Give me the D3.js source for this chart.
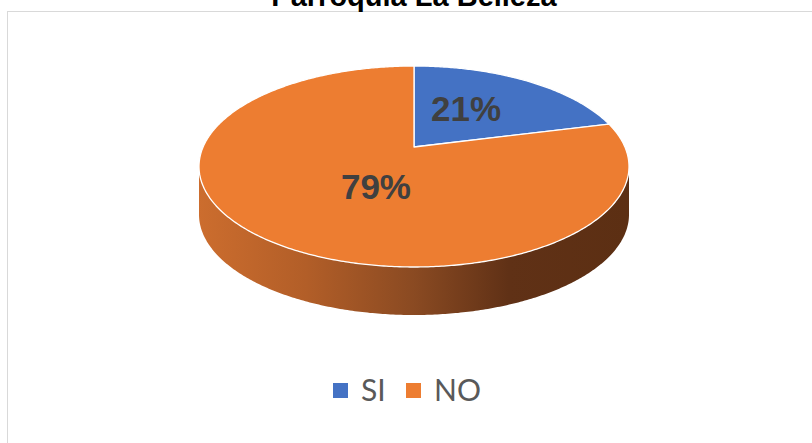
<!DOCTYPE html>
<html><head><meta charset="utf-8">
<script src="https://cdn.jsdelivr.net/npm/d3@7"></script>
<style>html,body{margin:0;padding:0;background:#fff;overflow:hidden}</style>
</head><body>
<svg id="chart" width="812" height="443"></svg>
<script>
const title = "Parroquia La Belleza";
const categories = ["SI", "NO"];
const values = [21, 79];
const colors = ["#4472C4", "#ED7D31"];

const W = 812, H = 443;
const svg = d3.select("#chart");

// chart border
svg.append("rect").attr("x", 7.5).attr("y", 11.5).attr("width", 830).attr("height", 460)
  .attr("fill", "#fff").attr("stroke", "#d9d9d9").attr("stroke-width", 1);

// title
svg.append("text").attr("x", 414).attr("y", 6).attr("text-anchor", "middle")
  .attr("font-family", "Liberation Sans, Arial, sans-serif").attr("font-weight", "bold")
  .attr("font-size", 29).attr("fill", "#000").text(title);

// perspective projection of a disc
const cx = 414, cy = 147, backR = 81, frontR = 120, halfW = 215, depth = 48;
const k = (frontR - backR) / (frontR + backR);
const B = backR * (1 + k);
const A = halfW * Math.sqrt(1 - k * k);
function proj(theta, f, dz) {
  const u = f * Math.sin(theta), v = f * Math.cos(theta);
  const w = 1 + k * v;
  return [cx + A * u / w, cy - B * v / w + dz];
}

const pie = d3.pie().sort(null).value(d => d)(values);
const total = d3.sum(values);

function arcPoints(a0, a1, dz) {
  const n = Math.max(2, Math.ceil(Math.abs(a1 - a0) / 0.01));
  const pts = [];
  for (let i = 0; i <= n; i++) pts.push(proj(a0 + (a1 - a0) * i / n, 1, dz));
  return pts;
}

// side gradient
const defs = svg.append("defs");
const grad = defs.append("linearGradient").attr("id", "sideGrad")
  .attr("gradientUnits", "userSpaceOnUse").attr("x1", cx - halfW).attr("x2", cx + halfW).attr("y1", 0).attr("y2", 0);
[["0%", "#cc6d2e"], ["25%", "#b25e28"], ["50%", "#8a4a22"], ["72%", "#603116"], ["100%", "#5c2f13"]]
  .forEach(([o, c]) => grad.append("stop").attr("offset", o).attr("stop-color", c));

// visible front side: between silhouette angles
const t1 = Math.acos(-k), t2 = 2 * Math.PI - Math.acos(-k);
pie.forEach((p, i) => {
  const a0 = Math.max(p.startAngle, t1), a1 = Math.min(p.endAngle, t2);
  if (a1 <= a0) return;
  const top = arcPoints(a0, a1, 0);
  const bot = arcPoints(a1, a0, depth);
  const pts = top.concat(bot);
  svg.append("path").attr("d", d3.line()(pts) + "Z")
    .attr("fill", i === 1 ? "url(#sideGrad)" : d3.color(colors[i]).darker(1.2));
});

// top faces
pie.forEach((p, i) => {
  const pts = [proj(0, 0, 0)].concat(arcPoints(p.startAngle, p.endAngle, 0));
  svg.append("path").attr("d", d3.line()(pts) + "Z")
    .attr("fill", colors[i]).attr("stroke", "#fff").attr("stroke-width", 1.3)
    .attr("stroke-linejoin", "round");
});

// labels
const labelFrac = [0.5, 0.42];
const labelNudge = [[-8, -3.5], [20, 5]];
pie.forEach((p, i) => {
  const mid = (p.startAngle + p.endAngle) / 2;
  const [x, y] = proj(mid, labelFrac[i], 0);
  svg.append("text").attr("x", x + labelNudge[i][0]).attr("y", y + labelNudge[i][1])
    .attr("dy", "0.36em").attr("text-anchor", "middle")
    .attr("font-family", "Liberation Sans, Arial, sans-serif").attr("font-weight", "bold")
    .attr("font-size", 35).attr("fill", "#404040")
    .text(Math.round(values[i] / total * 100) + "%");
});

// legend
const legend = svg.append("g");
const legX = [333, 406];
categories.forEach((c, i) => {
  legend.append("rect").attr("x", legX[i]).attr("y", 383).attr("width", 15).attr("height", 15)
    .attr("fill", colors[i]);
  legend.append("text").attr("x", legX[i] + 28).attr("y", 401)
    .attr("font-family", "Lato, 'Open Sans', sans-serif").attr("font-size", 30)
    .attr("fill", "#595959").text(c);
});
</script>
</body></html>
